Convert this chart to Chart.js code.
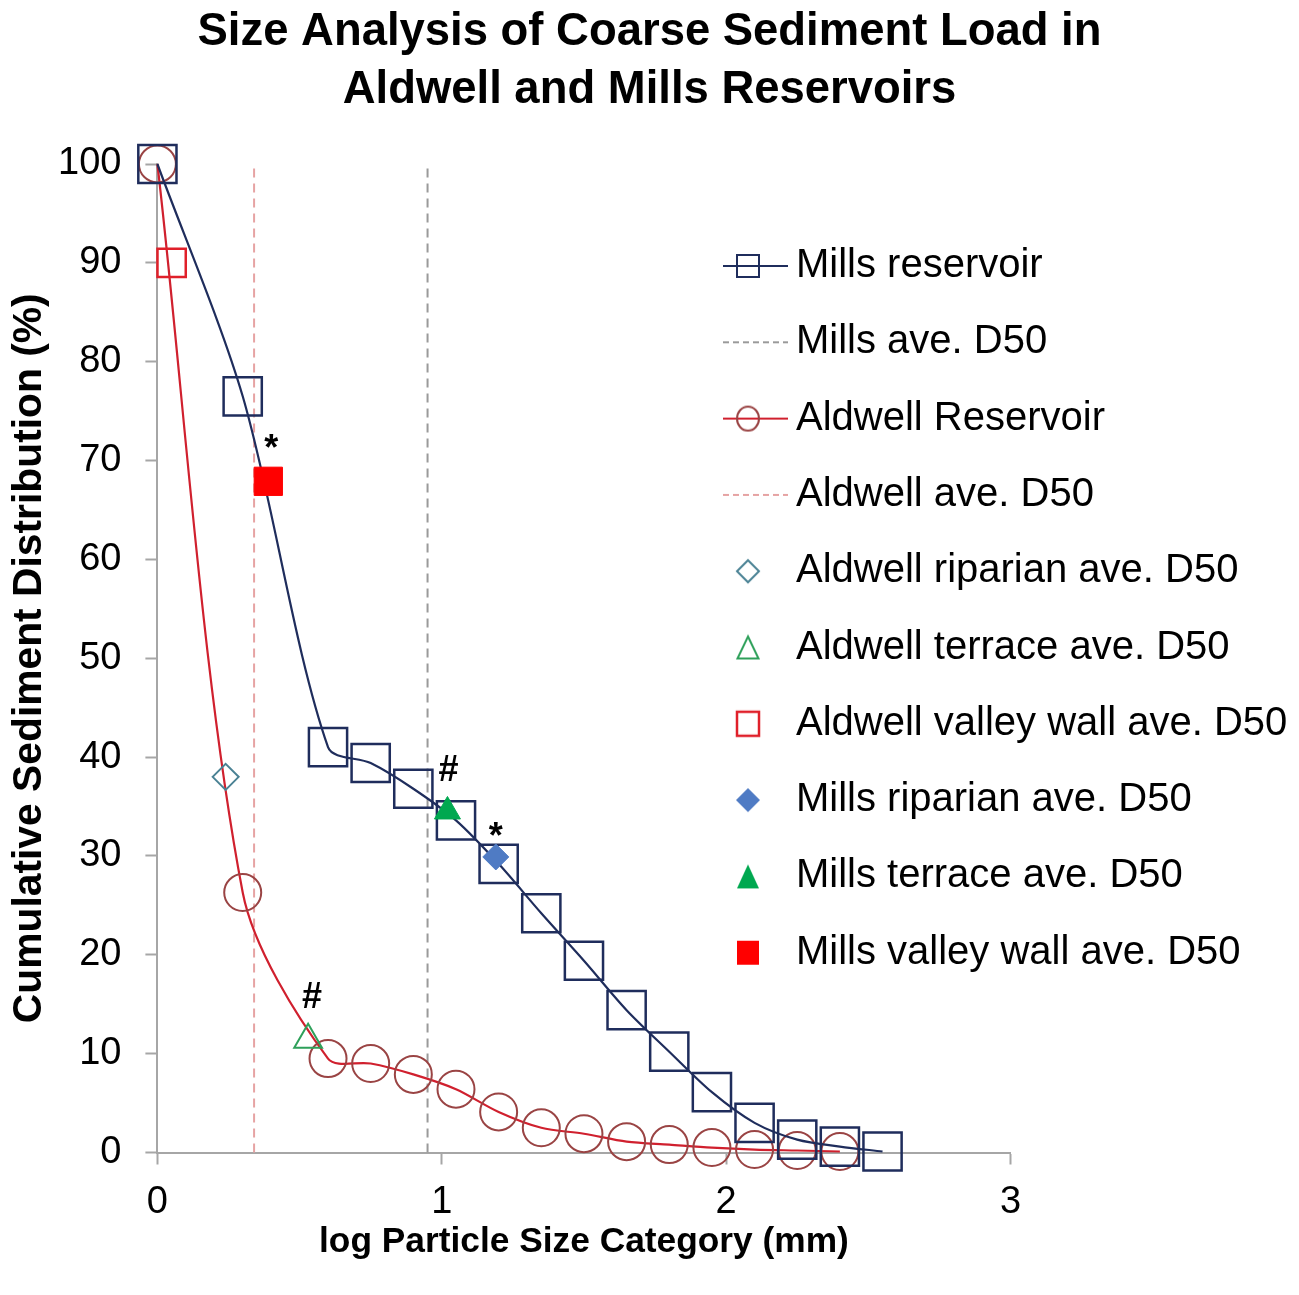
<!DOCTYPE html>
<html>
<head>
<meta charset="utf-8">
<script src="https://cdn.jsdelivr.net/npm/chart.js@4/dist/chart.umd.min.js"></script>
<style>
html,body{margin:0;padding:0;background:#fff;}
#wrap{width:1299px;height:1295px;position:relative;}
</style>
</head>
<body>
<div id="wrap"><canvas id="c" width="1299" height="1295"></canvas></div>
<script>
// ---------------- data ----------------
const titleLines = ['Size Analysis of Coarse Sediment Load in', 'Aldwell and Mills Reservoirs'];
const xTitle = 'log Particle Size Category (mm)';
const yTitle = 'Cumulative Sediment Distribution (%)';
const xTicks = [0, 1, 2, 3];
const yTicks = [0, 10, 20, 30, 40, 50, 60, 70, 80, 90, 100];

const millsX = [0, 0.30, 0.60, 0.75, 0.90, 1.05, 1.20, 1.35, 1.50, 1.65, 1.80, 1.95, 2.10, 2.25, 2.40, 2.55];
const millsY = [100, 76.5, 41.0, 39.4, 36.8, 33.6, 29.2, 24.2, 19.4, 14.4, 10.2, 6.1, 3.0, 1.3, 0.6, 0.1];
const aldwellX = [0, 0.30, 0.60, 0.75, 0.90, 1.05, 1.20, 1.35, 1.50, 1.65, 1.80, 1.95, 2.10, 2.25, 2.40];
const aldwellY = [100, 26.3, 9.5, 9.0, 7.9, 6.4, 4.1, 2.5, 1.9, 1.1, 0.8, 0.5, 0.3, 0.2, 0.1];

const millsAveD50 = 0.95;
const aldwellAveD50 = 0.34;

const lineNames = ['Mills reservoir', 'Mills ave. D50', 'Aldwell Reservoir', 'Aldwell ave. D50'];
const d50Names = ['Aldwell riparian ave. D50', 'Aldwell terrace ave. D50', 'Aldwell valley wall ave. D50',
                  'Mills riparian ave. D50', 'Mills terrace ave. D50', 'Mills valley wall ave. D50'];
const d50X = [0.24, 0.53, 0.05, 1.19, 1.02, 0.39];
const d50Y = [38.0, 11.4, 90.0, 29.9, 34.5, 67.9];
const d50Notes = ['', '#', '', '*', '#', '*'];

// ---------------- styles ----------------
const C = {
  navy: '#1f2d5c', aldLine: '#d0202e', aldMarker: '#9a4444',
  millsDash: '#9a9a9a', aldDash: '#e6a3a3',
  teal: '#4a8294', greenOpen: '#2ea05a', redOpen: '#e0202a',
  blue: '#4f7bc4', green: '#00a850', red: '#ff0000', axis: '#a6a6a6'
};
const d50Styles = [
  {pointStyle: 'rectRot', radius: 13, fill: 'rgba(0,0,0,0)', stroke: C.teal, bw: 2, noteOffset: [0, 0]},
  {pointStyle: 'triangle', radius: 16, fill: 'rgba(0,0,0,0)', stroke: C.greenOpen, bw: 2, noteOffset: [4, -42]},
  {pointStyle: 'rect', radius: 20, fill: 'rgba(0,0,0,0)', stroke: C.redOpen, bw: 2.5, noteOffset: [0, 0]},
  {pointStyle: 'rectRot', radius: 13, fill: C.blue, stroke: C.blue, bw: 1, noteOffset: [0, -19]},
  {pointStyle: 'triangle', radius: 15, fill: C.green, stroke: C.green, bw: 1, noteOffset: [1, -40]},
  {pointStyle: 'rect', radius: 20, fill: C.red, stroke: C.red, bw: 1, noteOffset: [3, -31]}
];

function fontAvailable(name) {
  const g = document.createElement('canvas').getContext('2d');
  const s = 'mmmmmmmmmmlli WWW 0123 Analysis';
  g.font = '40px monospace';
  const a = g.measureText(s).width;
  g.font = '40px "' + name + '", monospace';
  const b = g.measureText(s).width;
  return Math.abs(a - b) > 0.5;
}
const baseFam = "'Liberation Sans', Arial, sans-serif";
const narrowFam = fontAvailable('Liberation Sans Narrow') ? "'Liberation Sans Narrow', " + baseFam : baseFam;
function fitSize(text, family, targetW) {
  const g = document.createElement('canvas').getContext('2d');
  g.font = 'bold 100px ' + family;
  return 100 * targetW / g.measureText(text).width;
}
const titleSize = fitSize(titleLines[0], narrowFam, 904);
const xTitleSize = fitSize(xTitle, narrowFam, 530);
const yTitleSize = fitSize(yTitle, baseFam, 730);

// ---------------- legend symbols ----------------
function sym(draw) {
  const c = document.createElement('canvas');
  c.width = 88; c.height = 40;
  const g = c.getContext('2d');
  draw(g, 44, 20);
  return c;
}
function hLine(g, color, dash) {
  g.save(); g.strokeStyle = color; g.lineWidth = 2; g.setLineDash(dash || []);
  g.beginPath(); g.moveTo(19, 20); g.lineTo(84, 20); g.stroke(); g.restore();
}
function diamond(g, cx, cy, r) { g.beginPath(); g.moveTo(cx, cy - r); g.lineTo(cx + r, cy); g.lineTo(cx, cy + r); g.lineTo(cx - r, cy); g.closePath(); }
function tri(g, cx, cy, w, h) { g.beginPath(); g.moveTo(cx, cy - h / 2); g.lineTo(cx + w / 2, cy + h / 2); g.lineTo(cx - w / 2, cy + h / 2); g.closePath(); }
const legendSymbols = [
  sym((g, x, y) => { hLine(g, C.navy); g.strokeStyle = C.navy; g.lineWidth = 2; g.strokeRect(x - 11, y - 11, 22, 22); }),
  sym((g) => { hLine(g, C.millsDash, [6, 4]); }),
  sym((g, x, y) => { hLine(g, C.aldLine); g.strokeStyle = C.aldMarker; g.lineWidth = 2; g.beginPath(); g.ellipse(x, y, 11, 12, 0, 0, Math.PI * 2); g.stroke(); }),
  sym((g) => { hLine(g, C.aldDash, [6, 4]); }),
  sym((g, x, y) => { g.strokeStyle = C.teal; g.lineWidth = 2; diamond(g, x, y, 11); g.stroke(); }),
  sym((g, x, y) => { g.strokeStyle = C.greenOpen; g.lineWidth = 2; tri(g, x, y, 21, 22); g.stroke(); }),
  sym((g, x, y) => { g.strokeStyle = C.redOpen; g.lineWidth = 2.5; g.strokeRect(x - 11, y - 12, 22, 24); }),
  sym((g, x, y) => { g.fillStyle = C.blue; diamond(g, x, y, 12); g.fill(); }),
  sym((g, x, y) => { g.fillStyle = C.green; tri(g, x, y, 22, 24); g.fill(); }),
  sym((g, x, y) => { g.fillStyle = C.red; g.fillRect(x - 11, y - 12, 22, 24); })
];
const legendNames = lineNames.concat(d50Names);

// ---------------- datasets ----------------
const toPts = (xs, ys) => xs.map((x, i) => ({x: x, y: ys[i]}));
const datasets = [
  {
    label: lineNames[0], data: toPts(millsX, millsY), showLine: true, tension: 0.3,
    borderColor: C.navy, borderWidth: 2.2, pointStyle: 'rect', pointRadius: 27,
    pointBorderColor: C.navy, pointBackgroundColor: 'rgba(0,0,0,0)', pointBorderWidth: 2.5, order: 2, clip: false
  },
  {
    label: lineNames[1], data: [{x: millsAveD50, y: yTicks[0]}, {x: millsAveD50, y: yTicks[yTicks.length - 1]}],
    showLine: true, borderColor: C.millsDash, borderWidth: 2, borderDash: [9, 6], pointRadius: 0, order: 3, clip: false
  },
  {
    label: lineNames[2], data: toPts(aldwellX, aldwellY), showLine: true, tension: 0.3,
    borderColor: C.aldLine, borderWidth: 2.2, pointStyle: 'circle', pointRadius: 18.5,
    pointBorderColor: C.aldMarker, pointBackgroundColor: 'rgba(0,0,0,0)', pointBorderWidth: 2, order: 2, clip: false
  },
  {
    label: lineNames[3], data: [{x: aldwellAveD50, y: yTicks[0]}, {x: aldwellAveD50, y: yTicks[yTicks.length - 1]}],
    showLine: true, borderColor: C.aldDash, borderWidth: 2, borderDash: [9, 6], pointRadius: 0, order: 3, clip: false
  }
];
d50Names.forEach((n, i) => {
  const s = d50Styles[i];
  datasets.push({
    label: n, data: [{x: d50X[i], y: d50Y[i]}], showLine: false,
    pointStyle: s.pointStyle, pointRadius: s.radius, pointBackgroundColor: s.fill,
    pointBorderColor: s.stroke, pointBorderWidth: s.bw, order: 1, clip: false,
    note: d50Notes[i], noteOffset: s.noteOffset
  });
});

// ---------------- plugins ----------------
const legendPlacer = {
  id: 'legendPlacer',
  afterLayout(chart, args, opts) {
    const lg = chart.legend;
    if (!lg) return;
    lg.left = opts.left; lg.top = opts.top;
    lg.right = chart.width; lg.bottom = chart.height;
    lg.width = lg.right - lg.left; lg.height = lg.bottom - lg.top;
  }
};
const notesPlugin = {
  id: 'notes',
  afterDatasetsDraw(chart, args, opts) {
    const ctx = chart.ctx;
    chart.data.datasets.forEach((ds, i) => {
      if (!ds.note) return;
      const el = chart.getDatasetMeta(i).data[0];
      if (!el) return;
      ctx.save();
      ctx.font = opts.font;
      ctx.fillStyle = opts.color;
      ctx.textAlign = 'center';
      ctx.textBaseline = 'middle';
      ctx.fillText(ds.note, el.x + ds.noteOffset[0], el.y + ds.noteOffset[1]);
      ctx.restore();
    });
  }
};

const tickFont = {family: baseFam, size: 38, lineHeight: 1};

new Chart(document.getElementById('c'), {
  type: 'scatter',
  data: {datasets: datasets},
  plugins: [legendPlacer, notesPlugin],
  options: {
    responsive: false,
    animation: false,
    events: [],
    layout: {padding: 0},
    plugins: {
      tooltip: {enabled: false},
      title: {
        display: true, text: titleLines, color: '#000',
        font: {family: narrowFam, size: titleSize, weight: 'bold', lineHeight: '58px'},
        padding: {top: 3, bottom: 45}
      },
      legend: {
        display: true, position: 'chartArea', align: 'start',
        labels: {
          usePointStyle: true, pointStyleWidth: 56, padding: 36.3, color: '#000',
          font: {family: baseFam, size: 40},
          generateLabels: () => legendNames.map((t, i) => ({
            text: t, pointStyle: legendSymbols[i], fillStyle: 'rgba(0,0,0,0)',
            strokeStyle: 'rgba(0,0,0,0)', lineWidth: 0, hidden: false, datasetIndex: i, fontColor: '#000'
          }))
        }
      },
      legendPlacer: {left: 683.7, top: 209.7},
      notes: {font: 'bold 36px ' + baseFam, color: '#000'}
    },
    scales: {
      x: {
        type: 'linear', min: xTicks[0], max: xTicks[xTicks.length - 1],
        afterBuildTicks: (s) => { s.ticks = xTicks.map(v => ({value: v})); },
        afterFit: (s) => { s.height = 142.5; },
        ticks: {color: '#000', font: tickFont, padding: 19.5},
        grid: {display: true, drawOnChartArea: false, drawTicks: true, tickLength: 12, tickColor: C.axis, tickWidth: 2},
        border: {display: true, color: C.axis, width: 2},
        title: {
          display: true, text: xTitle, color: '#000',
          font: {family: narrowFam, size: xTitleSize, weight: 'bold', lineHeight: '40px'},
          padding: {top: 0, bottom: 33}
        }
      },
      y: {
        type: 'linear', min: yTicks[0], max: yTicks[yTicks.length - 1],
        afterBuildTicks: (s) => { s.ticks = yTicks.map(v => ({value: v})); },
        afterFit: (s) => { s.width = 157.4; },
        ticks: {color: '#000', font: tickFont, padding: 24},
        grid: {display: true, drawOnChartArea: false, drawTicks: true, tickLength: 12, tickColor: C.axis, tickWidth: 2},
        border: {display: true, color: C.axis, width: 2},
        title: {
          display: true, text: yTitle, color: '#000',
          font: {family: baseFam, size: yTitleSize, weight: 'bold', lineHeight: '48px'},
          padding: {top: 6, bottom: 4}
        }
      },
      legendSpace: {
        type: 'linear', position: 'right', display: true,
        afterFit: (s) => { s.width = 288.5; },
        ticks: {display: false},
        grid: {display: false, drawTicks: false},
        border: {display: false},
        title: {display: false}
      }
    }
  }
});
</script>
</body>
</html>
